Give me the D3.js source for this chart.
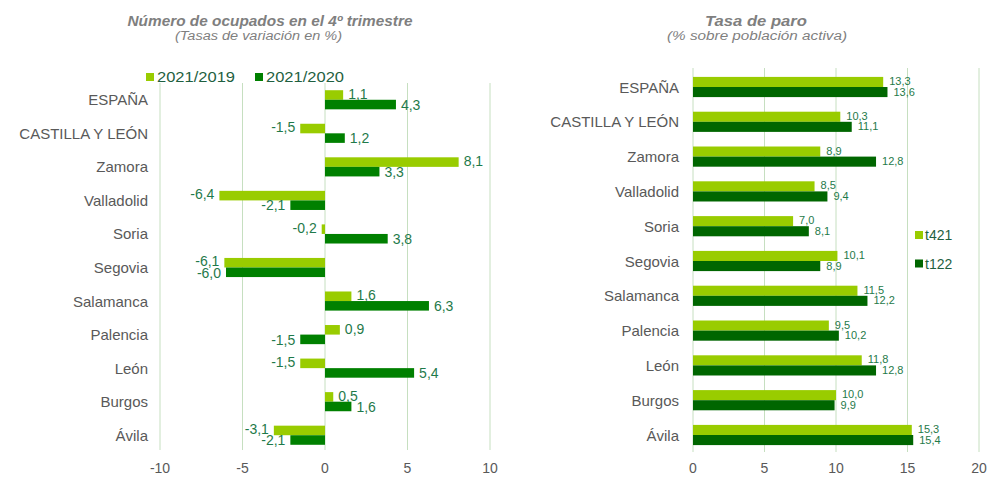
<!DOCTYPE html>
<html>
<head>
<meta charset="utf-8">
<script src="https://cdn.jsdelivr.net/npm/d3@7"></script>
<style>
  body { margin: 0; background: #fff; }
  svg { font-family: "Liberation Sans", Arial, sans-serif; display: block; }
</style>
</head>
<body>
<svg id="chart" width="989" height="477"></svg>
<script>
// categories (top to bottom)
const provincias = ["ESPAÑA", "CASTILLA Y LEÓN", "Zamora", "Valladolid", "Soria", "Segovia",
  "Salamanca", "Palencia", "León", "Burgos", "Ávila"];

// left chart: variation of employed (%)
const var2019 = [1.1, -1.5, 8.1, -6.4, -0.2, -6.1, 1.6, 0.9, -1.5, 0.5, -3.1];
const var2020 = [4.3, 1.2, 3.3, -2.1, 3.8, -6.0, 6.3, -1.5, 5.4, 1.6, -2.1];
const seriesLeft = ["2021/2019", "2021/2020"];
const ticksLeft = [-10, -5, 0, 5, 10];

// right chart: unemployment rate
const paroT421 = [13.3, 10.3, 8.9, 8.5, 7.0, 10.1, 11.5, 9.5, 11.8, 10.0, 15.3];
const paroT122 = [13.6, 11.1, 12.8, 9.4, 8.1, 8.9, 12.2, 10.2, 12.8, 9.9, 15.4];
const seriesRight = ["t421", "t122"];
const ticksRight = [0, 5, 10, 15, 20];

const svg = d3.select("#chart");
const fmt = v => d3.format(".1f")(v).replace(".", ",").replace("\u2212", "-");
const labelColor = "#595959";
const valueColor = "#1f7a4a";
const gridColor = "#c6dfc0";

//titles (widths)
function titles(cx, main, mainLen, subCx, sub, subLen) {
  svg.append("text")
    .attr("x", cx).attr("y", 25.5)
    .attr("text-anchor", "middle")
    .attr("textLength", mainLen).attr("lengthAdjust", "spacingAndGlyphs")
    .style("font-size", "14px").style("font-weight", "bold").style("font-style", "italic")
    .style("fill", "#7f7f7f")
    .text(main);
  svg.append("text")
    .attr("x", subCx).attr("y", 39.5)
    .attr("text-anchor", "middle")
    .attr("textLength", subLen).attr("lengthAdjust", "spacingAndGlyphs")
    .style("font-size", "12px").style("font-style", "italic")
    .style("fill", "#7f7f7f")
    .text(sub);
}
titles(270, "Número de ocupados en el 4º trimestre", 285, 258.5, "(Tasas de variación en %)", 167);
titles(756, "Tasa de paro", 102, 757, "(% sobre población activa)", 180);

//generic chart drawer
function drawChart(opts) {
  const { xRange, yRange, domain, ticks, a, b, colors, labelX, grid, valueSize, labelOffsets } = opts;

  const x = d3.scaleLinear().domain(domain).range(xRange);
  const y = d3.scaleBand().domain(provincias).range(yRange).paddingInner(opts.pad).paddingOuter(opts.pad / 2);
  const y1 = d3.scaleBand().domain([0, 1]).range([0, y.bandwidth()]);

  const g = svg.append("g");

  //gridlines
  g.selectAll(".grid").data(ticks).enter().append("line")
    .attr("x1", d => x(d)).attr("x2", d => x(d))
    .attr("y1", grid[0]).attr("y2", grid[1])
    .attr("stroke", gridColor).attr("stroke-width", 1);

  //tick labels
  g.selectAll(".tick").data(ticks).enter().append("text")
    .attr("x", d => x(d)).attr("y", 473)
    .attr("text-anchor", "middle")
    .style("font-size", "14px").style("fill", labelColor)
    .text(d => d);

  //category labels
  g.selectAll(".cat").data(provincias).enter().append("text")
    .attr("x", labelX)
    .attr("y", d => y(d) + y.bandwidth() / 2 + 5.5)
    .attr("text-anchor", "end")
    .style("font-size", "15px").style("fill", labelColor)
    .text(d => d);

  [a, b].forEach((vals, s) => {
    g.selectAll(".bar" + s).data(vals).enter().append("rect")
      .attr("x", d => x(Math.min(0, d)))
      .attr("width", d => Math.abs(x(d) - x(0)))
      .attr("y", (d, i) => y(provincias[i]) + y1(s))
      .attr("height", y1.bandwidth())
      .attr("fill", colors[s]);

    g.selectAll(".val" + s).data(vals).enter().append("text")
      .attr("x", d => d >= 0 ? x(d) + labelOffsets[0] : x(d) - labelOffsets[0])
      .attr("y", (d, i) => y(provincias[i]) + y1(s) + labelOffsets[1 + s])
      .attr("text-anchor", d => d >= 0 ? "start" : "end")
      .style("font-size", valueSize).style("fill", valueColor)
      .text(d => fmt(d));
  });
  return { x, y };
}

drawChart({
  xRange: [160, 490], yRange: [83, 452], domain: [-10, 10], ticks: ticksLeft,
  a: var2019, b: var2020, colors: ["#99cc00", "#008000"], labelX: 148,
  grid: [83, 450], pad: 0.43, valueSize: "14px", labelOffsets: [5, 8.5, 10]
});

drawChart({
  xRange: [693, 979], yRange: [69.6, 452.4], domain: [0, 20], ticks: ticksRight,
  a: paroT421, b: paroT122, colors: ["#99cc00", "#006600"], labelX: 679,
  grid: [68, 452], pad: 0.42, valueSize: "11px", labelOffsets: [6, 8, 8.5]
});

//left legend
const legL = svg.append("g").attr("transform", "translate(146,82)");
legL.selectAll("rect").data(seriesLeft).enter().append("rect")
  .attr("x", (d, i) => i * 109).attr("y", -9)
  .attr("width", 8).attr("height", 8)
  .attr("fill", (d, i) => ["#99cc00", "#008000"][i]);
legL.selectAll("text").data(seriesLeft).enter().append("text")
  .attr("x", (d, i) => i * 109 + 11).attr("y", 0)
  .attr("textLength", 78).attr("lengthAdjust", "spacingAndGlyphs")
  .style("font-size", "15px").style("fill", "#1f5f3f")
  .text(d => d);

//right legend
const legR = svg.append("g").attr("transform", "translate(915,240)");
legR.append("rect").attr("x", -3).attr("y", -16).attr("width", 50).attr("height", 50).attr("fill", "#fff");
legR.selectAll("rect.sw").data(seriesRight).enter().append("rect")
  .attr("class", "sw")
  .attr("x", 0).attr("y", (d, i) => i * 28.5 - 9)
  .attr("width", 8).attr("height", 8)
  .attr("fill", (d, i) => ["#99cc00", "#006600"][i]);
legR.selectAll("text").data(seriesRight).enter().append("text")
  .attr("x", 10).attr("y", (d, i) => i * 28.5)
  .style("font-size", "14px").style("fill", "#1f5f3f")
  .text(d => d);
</script>
</body>
</html>
